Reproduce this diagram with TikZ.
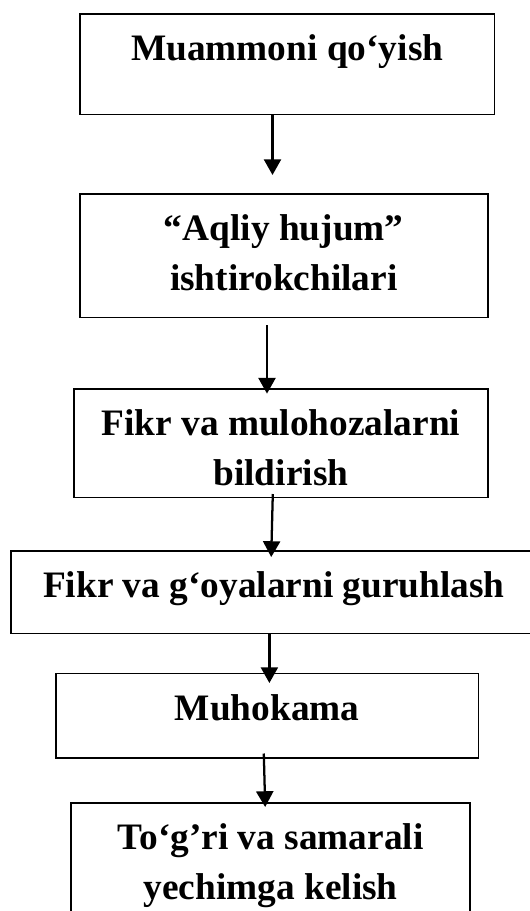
\documentclass[tikz,border=0pt]{standalone}
\usepackage{fontspec}
\setmainfont{Liberation Serif}
\usetikzlibrary{arrows.meta,calc}
\begin{document}
\begin{tikzpicture}[x=0.75pt,y=-0.75pt,
  box/.style={draw=black,line width=1.1pt,rectangle,inner sep=0pt,outer sep=0pt},
  txt/.style={anchor=base,inner sep=0pt,font=\fontsize{28}{37.5}\selectfont\bfseries},
  arr/.style={line width=1.7pt,-{Triangle[width=12.8pt,length=11.8pt]}}]
\clip (0,0) rectangle (530,911);
\fill[white] (0,0) rectangle (530,911);
% boxes
\node[box,minimum width=311.1pt,minimum height=75.375pt] (b1) at (287.2,64.25) {};
\node[box,minimum width=306pt,minimum height=92.7pt] (b2) at (283.8,255.8) {};
\node[box,minimum width=310.35pt,minimum height=81.45pt] (b3) at (280.9,443.2) {};
\node[box,minimum width=394.05pt,minimum height=61.725pt] (b4) at (273.9,592.15) {};
\node[box,minimum width=317.175pt,minimum height=63.375pt] (b5) at (267.25,715.75) {};
\node[box,minimum width=299.175pt,minimum height=91.5pt] (b6) at (270.65,864) {};
% texts
\node[txt] (t1) at ($(b1.north)+(0,46.8)$) {Muammoni qo‘yish};
\node[txt] (t2a) at ($(b2.north)+(0,46.8)$) {“Aqliy hujum”};
\node[txt] (t2b) at ($(b2.north)+(0,96.8)$) {ishtirokchilari};
\node[txt] (t3a) at ($(b3.north)+(0,46.8)$) {Fikr va mulohozalarni};
\node[txt] (t3b) at ($(b3.north)+(0,96.3)$) {bildirish};
\node[txt] (t4) at ($(b4.north)+(0,46.8)$) {Fikr va g‘oyalarni guruhlash};
\node[txt] (t5) at ($(b5.north)+(0,46.8)$) {Muhokama};
\node[txt] (t6a) at ($(b6.north)+(0,46.8)$) {To‘g’ri va samarali};
\node[txt] (t6b) at ($(b6.north)+(0,96.3)$) {yechimga kelish};
% arrow end points
\coordinate (a1s) at (272.5,114.5);
\coordinate (a1e) at (272.5,175);
\coordinate (a2s) at (267,325.4);
\coordinate (a2e) at (267,393.6);
\coordinate (a3s) at (272.8,494);
\coordinate (a3e) at (271.2,557);
\coordinate (a4s) at (269.4,633);
\coordinate (a4e) at (269.4,683);
\coordinate (a5s) at (263.8,753.5);
\coordinate (a5e) at (265.2,807);
\draw[arr] (a1s) -- (a1e);
\draw[arr] (a2s) -- (a2e);
\draw[arr] (a3s) -- (a3e);
\draw[arr] (a4s) -- (a4e);
\draw[arr] (a5s) -- (a5e);
\end{tikzpicture}
\end{document}
